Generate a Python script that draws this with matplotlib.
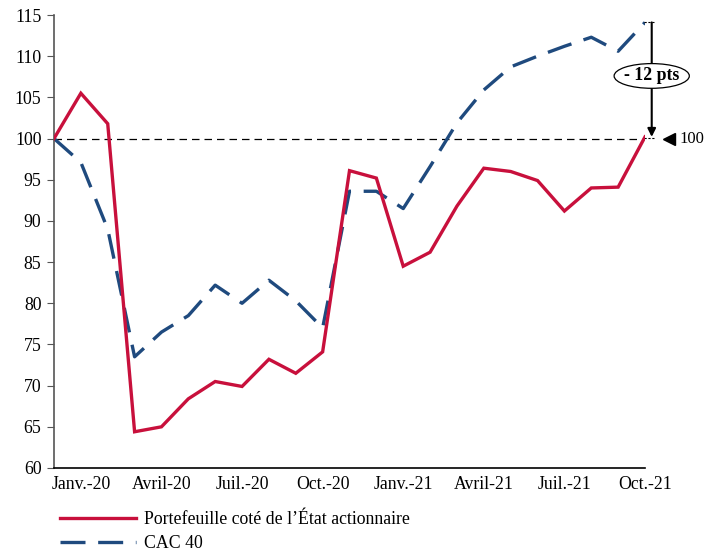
import matplotlib
matplotlib.use("Agg")
import matplotlib.pyplot as plt
from matplotlib.patches import Ellipse
from matplotlib.lines import Line2D

plt.rcParams['font.family'] = ['Liberation Serif', 'DejaVu Serif']

# 23 monthly points, Dec-19 (base 100) to Nov-21
portefeuille = [100, 105.5, 101.8, 64.4, 65.0, 68.4, 70.5, 69.9, 73.2, 71.5, 74.1,
                96.1, 95.2, 84.5, 86.2, 91.8, 96.4, 96.0, 94.9, 91.2, 94.0, 94.1, 100.2]
cac40 = [100, 97.1, 89.0, 73.5, 76.5, 78.5, 82.2, 80.0, 82.8, 80.3, 77.0,
         93.6, 93.6, 91.5, 96.6, 101.9, 105.9, 108.7, 110.0, 111.2, 112.3, 110.6, 114.1]
tick_pos = [1, 4, 7, 10, 13, 16, 19, 22]
tick_labels = ["Janv.-20", "Avril-20", "Juil.-20", "Oct.-20",
               "Janv.-21", "Avril-21", "Juil.-21", "Oct.-21"]
label_port = "Portefeuille coté de l’État actionnaire"
label_cac = "CAC 40"
ecart_text = "- 12 pts"
base_text = "100"

RED = "#C8103C"
BLUE = "#1F4A7E"
FS = 12.8

fig = plt.figure(figsize=(7.07, 5.53), dpi=100)
ax = fig.add_axes([54/707, 1-468/553, (645-54)/707, (468-15)/553])

x = list(range(len(portefeuille)))
ax.axhline(100, color="black", lw=0.9, ls=(0, (6, 4)), zorder=1)
ax.plot(x, cac40, color=BLUE, lw=2.4, dashes=(7.5, 3.8), zorder=2, label=label_cac)
ax.plot(x, portefeuille, color=RED, lw=2.4, zorder=3, label=label_port,
        solid_joinstyle="miter")

ax.set_xlim(0, 22)
ax.set_ylim(60, 115)
ax.set_yticks(range(60, 116, 5))
ax.set_xticks(tick_pos)
ax.set_xticklabels(tick_labels)
ax.tick_params(axis="x", length=0, labelsize=FS, pad=6)
ax.tick_params(axis="y", length=5, direction="out", labelsize=FS, pad=4, color="#555555")
for s in ["top", "right"]:
    ax.spines[s].set_visible(False)
ax.spines["left"].set_color("#555555")
ax.spines["bottom"].set_color("black")
ax.spines["left"].set_linewidth(1.2)
ax.spines["bottom"].set_linewidth(1.2)

# annotation: gap between CAC 40 and portfolio at last point
xa = 22.25
ytop = cac40[-1]
ybot = 100.2
ax.annotate("", xy=(xa, ybot), xytext=(xa, ytop),
            arrowprops=dict(arrowstyle="-|>", color="black", lw=1.5,
                            mutation_scale=12, shrinkA=0, shrinkB=0),
            annotation_clip=False, zorder=5)
ax.plot([xa - 0.3, xa + 0.1], [ytop, ytop], color="black", lw=0.8,
        ls=(0, (2, 1.5)), clip_on=False)
ax.plot([xa - 0.3, xa + 0.1], [ybot - 0.15, ybot - 0.15], color="black", lw=0.8,
        ls=(0, (2, 1.5)), clip_on=False)
ymid = 107.6
ell = Ellipse((xa, ymid), width=2.8, height=3.0, facecolor="white",
              edgecolor="black", lw=0.9, clip_on=False, zorder=6)
ax.add_patch(ell)
ax.text(xa, ymid, ecart_text, ha="center", va="center", fontsize=FS,
        fontweight="bold", zorder=7, clip_on=False)
ax.plot([22.9], [100], marker="<", color="black", markersize=9, clip_on=False)
ax.text(23.3, 100, base_text, ha="left", va="center", fontsize=12, clip_on=False)

# legend
handles = [Line2D([], [], color=RED, lw=2.4),
           Line2D([], [], color=BLUE, lw=2.4, dashes=(7.5, 3.8))]
fig.legend(handles, [label_port, label_cac], loc="upper left",
           bbox_to_anchor=(60/707, 1-511/553), frameon=False, fontsize=FS,
           handlelength=4.3, handletextpad=0.4, labelspacing=0.42,
           borderaxespad=0, borderpad=0)

fig.savefig("out.png", dpi=100)
